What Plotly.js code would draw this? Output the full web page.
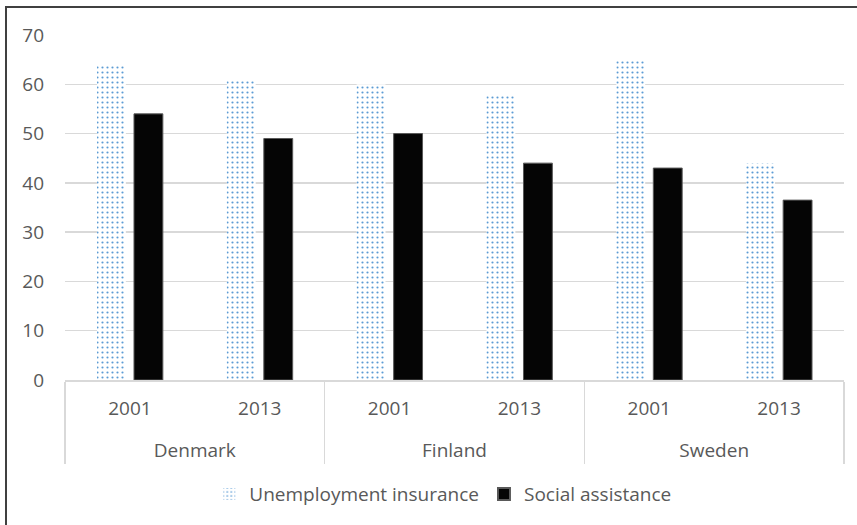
<!DOCTYPE html>
<html>
<head>
<meta charset="utf-8">
<script src="https://cdn.plot.ly/plotly-3.0.1.min.js"></script>
<style>
  html, body { margin: 0; padding: 0; background: #fff; }
  #wrap { position: relative; width: 857px; height: 525px; }
  #chart { position: absolute; left: 0; top: 0; width: 857px; height: 525px; }
  #frame { position: absolute; left: 5px; top: 6px; width: 860px; height: 530px;
           border-top: 2px solid #404040; border-left: 2px solid #404040; pointer-events: none; }
</style>
</head>
<body>
<div id="wrap">
  <div id="chart"></div>
  <div id="frame"></div>
</div>
<script>
const countries = ['Denmark', 'Denmark', 'Finland', 'Finland', 'Sweden', 'Sweden'];
const years = ['2001', '2013', '2001', '2013', '2001', '2013'];
const unemploymentInsurance = [64, 61, 60, 58, 65, 44];
const socialAssistance = [54, 49, 50, 44, 43, 36.5];
const yTicks = [0, 10, 20, 30, 40, 50, 60, 70];

const fontFam = 'Open Sans, Liberation Sans, sans-serif';
const grey = '#595959';
const fs = 19;

// country row is pushed down one line to leave the taller gap seen in the reference
const countryLabels = countries.map(c => '<br>' + c);

const traces = [
  {
    type: 'bar',
    name: 'Unemployment insurance',
    x: [countryLabels, years],
    y: unemploymentInsurance,
    marker: {
      color: '#ffffff',
      pattern: { shape: '.', fgcolor: '#5B9BD5', bgcolor: '#ffffff', size: 5, solidity: 0.15 },
      line: { width: 0 }
    }
  },
  {
    type: 'bar',
    name: 'Social assistance',
    x: [countryLabels, years],
    y: socialAssistance,
    marker: { color: '#050505', line: { width: 1, color: '#595959' } }
  }
];

const layout = {
  width: 857,
  height: 525,
  margin: { l: 65, r: 13, t: 35, b: 145, autoexpand: false },
  paper_bgcolor: '#ffffff',
  plot_bgcolor: '#ffffff',
  barmode: 'group',
  bargap: 0.43,
  bargroupgap: 0.22,
  font: { family: fontFam, size: fs, color: grey },
  xaxis: {
    type: 'multicategory',
    showline: true,
    linecolor: '#d9d9d9',
    linewidth: 1.5,
    showdividers: true,
    dividercolor: '#d9d9d9',
    dividerwidth: 1.5,
    ticks: '',
    ticklabelstandoff: 11,
    tickfont: { family: fontFam, size: fs, color: grey },
    showgrid: false
  },
  yaxis: {
    range: [0, 70],
    tickvals: yTicks,
    showgrid: true,
    gridcolor: '#d9d9d9',
    gridwidth: 1.5,
    zeroline: false,
    showline: false,
    ticks: '',
    ticklabelstandoff: 20,
    tickfont: { family: fontFam, size: fs, color: grey }
  },
  showlegend: true,
  legend: {
    orientation: 'h',
    x: 0.485,
    xanchor: 'center',
    xref: 'paper',
    yref: 'container',
    y: 0.059,
    yanchor: 'middle',
    itemwidth: 30,
    font: { family: fontFam, size: fs, color: grey },
    itemsizing: 'constant'
  }
};

Plotly.newPlot('chart', traces, layout, { displayModeBar: false, staticPlot: true });
</script>
</body>
</html>
